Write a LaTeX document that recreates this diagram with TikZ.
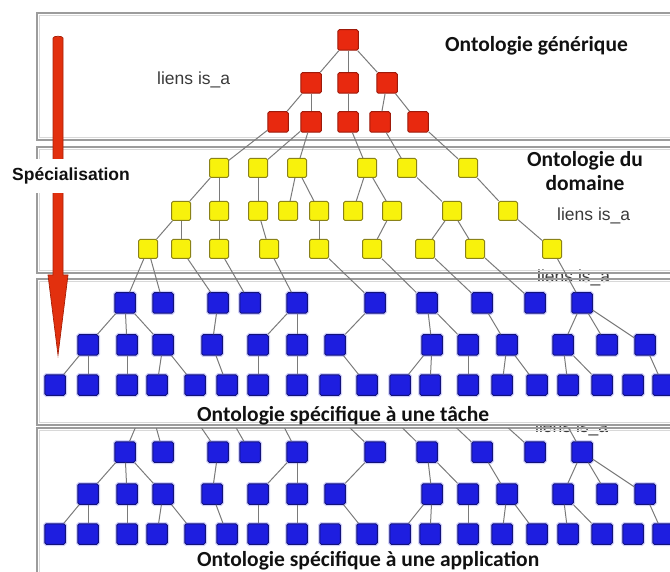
\documentclass[tikz,border=0pt]{standalone}
\usepackage{fontspec}
\setmainfont{Liberation Sans}
\newfontfamily\titlefnt{Carlito}
\definecolor{sqred}{HTML}{E8290F}
\definecolor{sqredd}{HTML}{9E1A0A}
\definecolor{sqyel}{HTML}{F8F20C}
\definecolor{sqyeld}{HTML}{8A8218}
\definecolor{sqblue}{HTML}{1E1EE0}
\definecolor{sqblued}{HTML}{12127A}
\definecolor{sqglow}{HTML}{6A6AF0}
\definecolor{linkgray}{HTML}{7A7A7A}
\definecolor{panelgray}{HTML}{9C9C9C}
\definecolor{panellight}{HTML}{D8D8D8}
\definecolor{arrowred}{HTML}{E2300E}
\definecolor{arrowredd}{HTML}{A82008}
\definecolor{labelgray}{HTML}{3A3A3A}
\definecolor{titleblack}{HTML}{111111}

\newcommand\bluetree[1]{%
  \foreach \px/\nm in {125/a,163/b,218/c,250/d,297/e,375/f,427/g,482/h,535/i,582/j}
    \node[bsq] (#1r1\nm) at (\px,303) {};
  \foreach \px/\nm in {88/a,127/b,163/c,212/d,258/e,297/f,335/g,432/h,468/i,507/j,563/k,607/l,645/m}
    \node[bsq] (#1r2\nm) at (\px,345) {};
  \foreach \px/\nm in {55/a,88/b,127/c,157/d,195/e,227/f,258/g,297/h,330/i,367/j,400/k,430/l,468/m,502/n,537/o,568/p,602/q,633/r,663/s}
    \node[bsq] (#1r3\nm) at (\px,385) {};
  \foreach \ua/\ub in {1a/2a,1a/2b,1a/2c,1c/2d,1e/2e,1e/2f,1f/2g,1g/2h,1g/2i,1h/2j,1j/2k,1j/2l,1j/2m,
      2a/3a,2a/3b,2b/3c,2c/3d,2c/3e,2d/3f,2e/3g,2f/3h,2g/3j,2h/3k,2h/3l,2i/3m,2j/3n,2j/3o,2k/3p,2k/3q,2m/3s}
    \draw[lnk] (#1r\ua) -- (#1r\ub);
}

\begin{document}
\begin{tikzpicture}[x=1pt,y=-1pt,
  sq/.style={rectangle, rounded corners=1.5pt, minimum size=20.5pt, inner sep=0pt, line width=1pt},
  rsq/.style={sq, fill=sqred, draw=sqredd},
  ysq/.style={sq, minimum size=19pt, fill=sqyel, draw=sqyeld},
  bsq/.style={sq, fill=sqblue, draw=sqblued, preaction={draw=sqglow, line width=3.5pt, opacity=0.3}},
  lnk/.style={draw=linkgray, line width=1pt},
  panelout/.style={draw=panelgray, line width=1.6pt},
  panelin/.style={draw=panellight, line width=1.4pt},
  liens/.style={text=labelgray, font=\fontsize{17.5}{20}\selectfont, inner sep=0pt, anchor=base west},
  ttl/.style={text=titleblack, font=\titlefnt\bfseries\fontsize{21.5}{25}\selectfont, inner sep=0pt}
]
\useasboundingbox (0,0) rectangle (670,572);
\clip (0,0) rectangle (670,572);

% labels lying under the panel borders
\node[liens] (l3) at (537,282.7) {liens is\_a};
\begin{scope}
  \clip (500,425) rectangle (670,450);
  \node[liens] (l4) at (535,432) {liens is\_a};
\end{scope}

% panels
\foreach \ya/\yb in {13/140, 147/273, 279/425, 428/620} {
  \draw[panelout] (37,\ya) rectangle (720,\yb);
  \draw[panelin] (39.5,\ya+2.5) rectangle (720,\yb-2.5);
}

% red tree
\node[rsq] (r1) at (348,40) {};
\node[rsq] (r2a) at (311,83) {};
\node[rsq] (r2b) at (348,83) {};
\node[rsq] (r2c) at (387,83) {};
\node[rsq] (r3a) at (278,122) {};
\node[rsq] (r3b) at (311,122) {};
\node[rsq] (r3c) at (348,122) {};
\node[rsq] (r3d) at (380,122) {};
\node[rsq] (r3e) at (418,122) {};
\foreach \ua/\ub in {r1/r2a,r1/r2b,r1/r2c,r2a/r3a,r2a/r3b,r2b/r3c,r2c/r3d,r2c/r3e}
  \draw[lnk] (\ua) -- (\ub);

% yellow tree
\foreach \px/\nm in {219/a,258/b,297/c,367/d,407/e,468/f}
  \node[ysq] (y1\nm) at (\px,168) {};
\foreach \px/\nm in {181/a,219/b,258/c,288/d,319/e,353/f,392/g,452/h,508/i}
  \node[ysq] (y2\nm) at (\px,211) {};
\foreach \px/\nm in {148/a,181/b,219/c,269/d,319/e,372/f,425/g,475/h,552/i}
  \node[ysq] (y3\nm) at (\px,249) {};
\foreach \ua/\ub in {r3a/y1a,r3b/y1b,r3b/y1c,r3c/y1d,r3d/y1e,r3e/y1f,
    y1a/y2a,y1a/y2b,y1b/y2c,y1c/y2d,y1c/y2e,y1d/y2f,y1d/y2g,y1e/y2h,y1f/y2i,
    y2a/y3a,y2a/y3b,y2b/y3c,y2c/y3d,y2e/y3e,y2g/y3f,y2h/y3g,y2h/y3h,y2i/y3i}
  \draw[lnk] (\ua) -- (\ub);

% blue tree, task ontology
\bluetree{t}
\foreach \ua/\ub in {y3a/tr1a,y3a/tr1b,y3b/tr1c,y3c/tr1d,y3d/tr1e,y3e/tr1f,y3f/tr1g,y3g/tr1h,y3h/tr1i,y3i/tr1j}
  \draw[lnk] (\ua) -- (\ub);

% blue tree, application ontology
\begin{scope}[shift={(0,149)}]
  \bluetree{a}
\end{scope}
\begin{scope}
  \clip (30,428) rectangle (700,600);
  \foreach \gx/\tg in {148/a,148/b,181/c,219/d,269/e,319/f,372/g,425/h,475/i,552/j} {
    \coordinate (gh\tg) at (\gx,398);
    \draw[lnk] (gh\tg) -- (ar1\tg);
  }
\end{scope}

% specialisation arrow
\path[fill=arrowred, draw=arrowredd, line width=0.7pt]
  (53,38) to[out=90,in=90,looseness=0.6] (63,38) -- (63,275) -- (68,275) -- (58,355) -- (48,275) -- (53,275) -- cycle;
\node[fill=white, inner xsep=2pt, inner ysep=9pt, font=\bfseries\fontsize{17.5}{20}\selectfont, text=titleblack] (spec) at (71,176) {Spécialisation};

% other labels
\node[liens] (l1) at (157,84.5) {liens is\_a};
\node[liens] (l2) at (557,220.7) {liens is\_a};
\node[ttl, anchor=base west] (tg) at (445,51.5) {Ontologie générique};
\node[ttl, anchor=base] (td1) at (585,167) {Ontologie du};
\node[ttl, anchor=base] (td2) at (585,191) {domaine};
\node[ttl, anchor=base west] (tt) at (197,421) {Ontologie spécifique à une tâche};
\node[ttl, anchor=base west] (ta) at (197,566) {Ontologie spécifique à une application};
\end{tikzpicture}
\end{document}
